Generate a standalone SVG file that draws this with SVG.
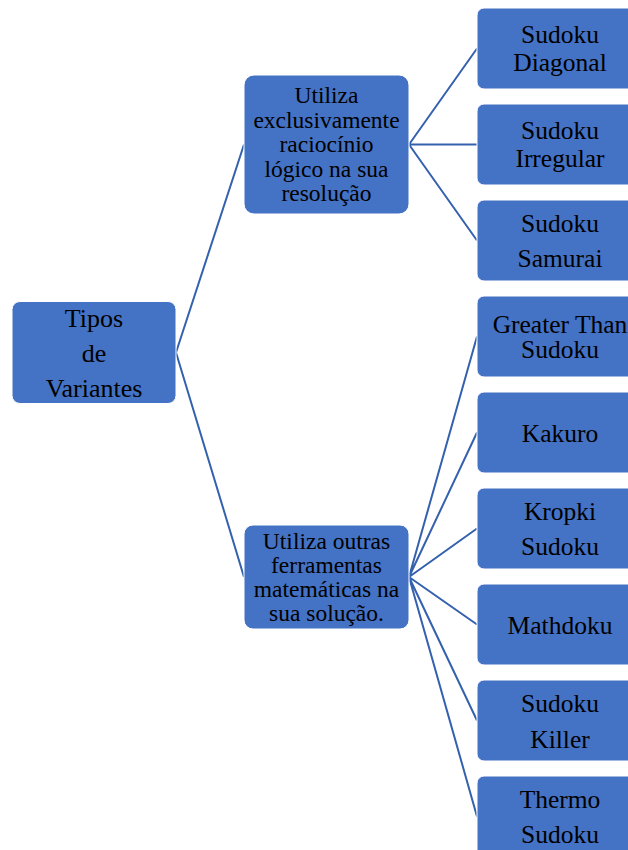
<svg xmlns="http://www.w3.org/2000/svg" width="628" height="850" viewBox="0 0 628 850">
<style>
.box{fill:#4472C4;stroke:#ffffff;stroke-width:1}
.t{font-family:"Liberation Serif","Times New Roman",serif;fill:#000;text-anchor:middle}
.r{font-size:26px}
.m{font-size:23.5px}
.l{font-size:25.5px}
.c{stroke:#3461AE;stroke-width:2;fill:none}
</style>
<rect width="628" height="850" fill="#ffffff"/>
<g id="connectors">
<path class="c" d="M176,352.5 L244,144.5 M176,352.5 L244,577"/>
<path class="c" d="M409,144.5 L477,48.5 M409,144.5 L477,144.5 M409,144.5 L477,240.5"/>
<path class="c" d="M409,577 L477,336.5 M409,577 L477,432.5 M409,577 L477,528.5 M409,577 L477,624.5 M409,577 L477,720.5 M409,577 L477,816.5"/>
</g>
<g id="root"><rect class="box" x="12" y="301.5" width="164" height="102" rx="8"/>
<text class="t r" x="94" y="327">Tipos</text><text class="t r" x="94" y="362">de</text><text class="t r" x="94" y="397">Variantes</text></g>
<g id="mid1"><rect class="box" x="244" y="75" width="165" height="139" rx="10"/>
<text class="t m" x="326.5" y="103.3">Utiliza</text><text class="t m" x="326.5" y="127.5">exclusivamente</text><text class="t m" x="326.5" y="152">raciocínio</text><text class="t m" x="326.5" y="176.5">lógico na sua</text><text class="t m" x="326.5" y="200.7">resolução</text></g>
<g id="mid2"><rect class="box" x="244" y="525" width="165" height="104" rx="9"/>
<text class="t m" x="326.5" y="549">Utiliza outras</text><text class="t m" x="326.5" y="573">ferramentas</text><text class="t m" x="326.5" y="597.3">matemáticas na</text><text class="t m" x="326.5" y="621">sua solução.</text></g>
<g id="leaf1"><rect class="box" x="477" y="8" width="166" height="81" rx="7"/>
<text class="t l" x="560" y="43.3">Sudoku</text><text class="t l" x="560" y="70.7">Diagonal</text></g>
<g id="leaf2"><rect class="box" x="477" y="104" width="166" height="81" rx="7"/>
<text class="t l" x="560" y="139.3">Sudoku</text><text class="t l" x="560" y="166.7">Irregular</text></g>
<g id="leaf3"><rect class="box" x="477" y="200" width="166" height="81" rx="7"/>
<text class="t l" x="560" y="231.7">Sudoku</text><text class="t l" x="560" y="266.7">Samurai</text></g>
<g id="leaf4"><rect class="box" x="477" y="296" width="166" height="81" rx="7"/>
<text class="t l" x="560" y="333.3">Greater Than</text><text class="t l" x="560" y="358.3">Sudoku</text></g>
<g id="leaf5"><rect class="box" x="477" y="392" width="166" height="81" rx="7"/>
<text class="t l" x="560" y="441.7">Kakuro</text></g>
<g id="leaf6"><rect class="box" x="477" y="488" width="166" height="81" rx="7"/>
<text class="t l" x="560" y="520">Kropki</text><text class="t l" x="560" y="555">Sudoku</text></g>
<g id="leaf7"><rect class="box" x="477" y="584" width="166" height="81" rx="7"/>
<text class="t l" x="560" y="634">Mathdoku</text></g>
<g id="leaf8"><rect class="box" x="477" y="680" width="166" height="81" rx="7"/>
<text class="t l" x="560" y="711.7">Sudoku</text><text class="t l" x="560" y="747.7">Killer</text></g>
<g id="leaf9"><rect class="box" x="477" y="776" width="166" height="81" rx="7"/>
<text class="t l" x="560" y="808.3">Thermo</text><text class="t l" x="560" y="843.3">Sudoku</text></g>
</svg>
